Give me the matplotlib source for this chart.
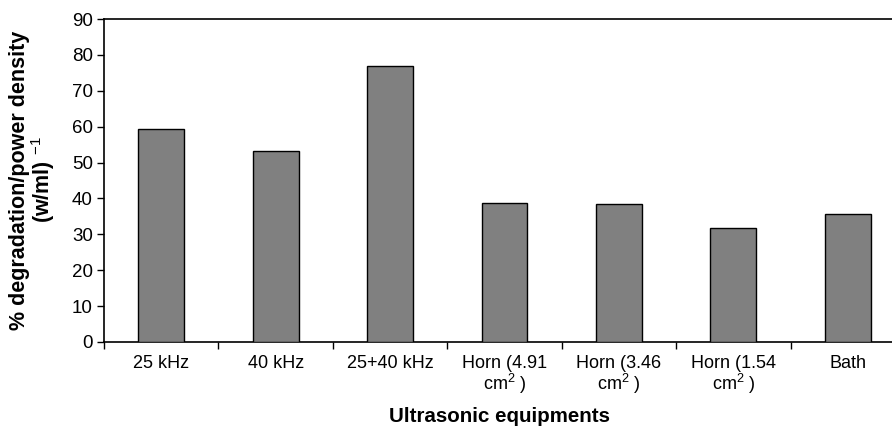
import matplotlib
matplotlib.use("Agg")
import matplotlib.pyplot as plt
import numpy as np

categories = ["25 kHz", "40 kHz", "25+40 kHz", "Horn (4.91\ncm$^2$ )", "Horn (3.46\ncm$^2$ )",
              "Horn (1.54\ncm$^2$ )", "Bath"]
values = [59.3, 53.2, 76.9, 38.8, 38.5, 31.8, 35.6]
yticks = [0, 10, 20, 30, 40, 50, 60, 70, 80, 90]

plt.rcParams['font.family'] = ['Liberation Sans', 'DejaVu Sans']
plt.rcParams['mathtext.fontset'] = 'custom'
plt.rcParams['mathtext.rm'] = 'Liberation Sans'
plt.rcParams['mathtext.it'] = 'Liberation Sans'
plt.rcParams['mathtext.bf'] = 'Liberation Sans:bold'
fig = plt.figure(figsize=(8.92, 4.29), dpi=100)
ax = fig.add_axes([104/892, 1-342/429, (905-104)/892, (342-19)/429])

x = np.arange(len(categories))
ax.bar(x, values, width=0.4, color='#808080', edgecolor='black', linewidth=1.0, zorder=3)
ax.set_xlim(-0.5, len(categories) - 0.5)
ax.set_ylim(0, 90)
ax.set_yticks(yticks)
ax.tick_params(axis='y', labelsize=13.5, length=5, width=1, direction='out', pad=3)
ax.set_xticks(x)
ax.set_xticklabels(categories, fontsize=13, linespacing=1.0)
ax.tick_params(axis='x', which='major', length=0, pad=9)
ax.set_xticks(np.arange(len(categories) + 1) - 0.5, minor=True)
ax.tick_params(axis='x', which='minor', length=5, width=1, direction='out')
for s in ['left', 'bottom', 'top']:
    ax.spines[s].set_linewidth(1.2)
ax.spines['right'].set_visible(False)

fig.text(33/892, 1-180/429, "% degradation/power density\n(w/ml) $^{-1}$", fontsize=15.5,
         fontweight='bold', linespacing=1.0, rotation=90, ha='center', va='center',
         multialignment='center')
fig.text(500/892, 1-417/429, "Ultrasonic equipments", fontsize=14.8, fontweight='bold',
         ha='center', va='center')

fig.savefig("out.png", dpi=100)
